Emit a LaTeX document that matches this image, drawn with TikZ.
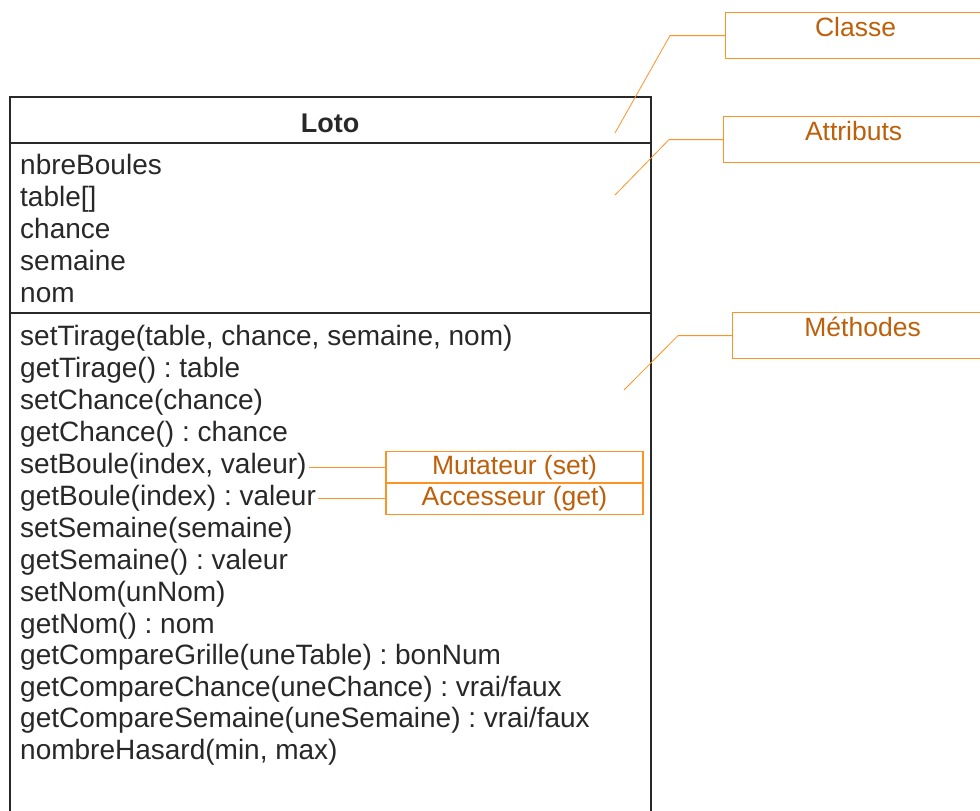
\documentclass[tikz,border=0pt]{standalone}
\usepackage{fontspec}
\setmainfont{Liberation Sans}
\frenchspacing

\definecolor{boxgray}{RGB}{40,40,40}
\definecolor{noteline}{RGB}{255,146,36}
\definecolor{notetext}{RGB}{190,95,10}

\tikzset{
  member/.style={anchor=mid west,inner sep=2pt,text=boxgray,font=\fontsize{28}{32}\selectfont},
  note/.style={draw=noteline,line width=1.2pt,text=notetext,font=\fontsize{26.5}{30}\selectfont,inner sep=4pt},
  leader/.style={draw=noteline,line width=.8pt}
}

\begin{document}
\begin{tikzpicture}[x=1pt,y=-1pt]
   \useasboundingbox[fill=white] (0,0) rectangle (980,811);
   % the class box, open at the bottom
   \draw[boxgray,line width=1.7pt] (10,820) -- (10,97) -- (651,97) -- (651,820);
   \draw[boxgray,line width=1.7pt] (10,143) -- (651,143);
   \draw[boxgray,line width=1.7pt] (10,313) -- (651,313);
   \node[text=boxgray,font=\bfseries\fontsize{27}{32}\selectfont] (loto) at (330,123) {Loto};
   % attributs
   \node[member] (nbre) at (18,172) {nbreBoules};
   \node[member] (tab) at (18,204) {table[]};
   \node[member] (chc) at (18,236) {chance};
   \node[member] (sem) at (18,268) {semaine};
   \node[member] (nom) at (18,300) {nom};
   % methodes
   \node[member] (settir) at (18,343) {setTirage(table, chance, semaine, nom)};
   \node[member] (gettir) at (18,375) {getTirage() : table};
   \node[member] (setchc) at (18,407) {setChance(chance)};
   \node[member] (getchc) at (18,439) {getChance() : chance};
   \node[member] (setbl) at (18,471) {setBoule(index, valeur)};
   \node[member] (getbl) at (18,503) {getBoule(index) : valeur};
   \node[member] (setsem) at (18,535) {setSemaine(semaine)};
   \node[member] (getsem) at (18,567) {getSemaine() : valeur};
   \node[member] (setnom) at (18,599) {setNom(unNom)};
   \node[member] (getnom) at (18,631) {getNom() : nom};
   \node[member] (cmpgr) at (18,662) {getCompareGrille(uneTable) : bonNum};
   \node[member] (cmpch) at (18,694) {getCompareChance(uneChance) : vrai/faux};
   \node[member] (cmpse) at (18,725) {getCompareSemaine(uneSemaine) : vrai/faux};
   \node[member] (hasard) at (18,757) {nombreHasard(min, max)};

   % notes
   \node[note,anchor=north west,minimum width=260pt,text height=20pt,text depth=18pt] (classe) at (725,12) {Classe};
   \node[note,anchor=north west,minimum width=260pt,text height=20pt,text depth=18pt] (attr) at (723,116) {Attributs};
   \node[note,anchor=north west,minimum width=260pt,text height=20pt,text depth=18pt] (meth) at (732,312) {Méthodes};
   \node[note,minimum width=257pt,minimum height=31pt] (mut) at (514.5,467.5) {Mutateur (set)};
   \node[note,minimum width=257pt,minimum height=31pt] (acc) at (514.5,498.5) {Accesseur (get)};

   \coordinate (clsend) at (615,133);
   \coordinate (attrend) at (615,195);
   \coordinate (methend) at (624,390);
   \draw[leader] (classe.west) -- ++(-55,0) -- (clsend);
   \draw[leader] (attr.west) -- ++(-54,0) -- (attrend);
   \draw[leader] (meth.west) -- ++(-54,0) -- (methend);
   \draw[leader] (mut.west) -- (mut.west -| setbl.east);
   \draw[leader] (acc.west) -- (acc.west -| getbl.east);
\end{tikzpicture}
\end{document}
